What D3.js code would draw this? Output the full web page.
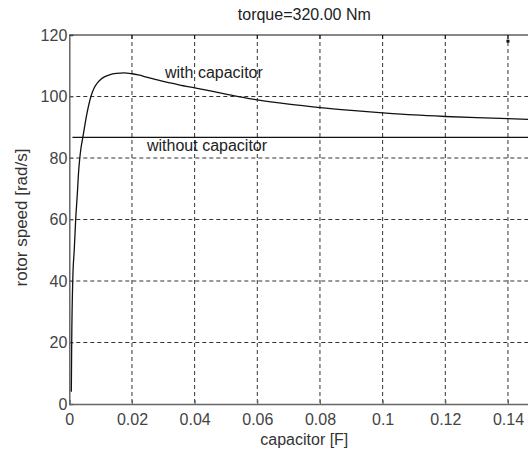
<!DOCTYPE html>
<html lang="en">
<head>
<meta charset="UTF-8">
<title>rotor speed vs capacitor</title>
<script src="https://d3js.org/d3.v7.min.js"></script>
<style>
    body { margin: 0; background: #fff; }
    svg { display: block; font-family: "Liberation Sans", Arial, sans-serif; }
    .axis text { fill: #444; font-size: 16px; }
    .axis path, .axis line { stroke: #666; }
    .grid line { stroke: #333; stroke-dasharray: 4,3; }
</style>
</head>
<body>
<svg width="528" height="451"></svg>
<script>
// data
const capacitor = [0.00064, 0.00077, 0.0011, 0.0016, 0.00204, 0.0026, 0.0029, 0.0033, 0.0037, 0.0043,
    0.0055, 0.0069, 0.0080, 0.0091, 0.0102, 0.0112, 0.013, 0.015, 0.0175, 0.020, 0.022, 0.025,
    0.030, 0.035, 0.040, 0.045, 0.050, 0.055, 0.060, 0.070, 0.080, 0.090, 0.100, 0.110, 0.120,
    0.130, 0.140, 0.150];
const speedWith = [4.0, 20.2, 40.1, 50.5, 60, 69, 74.5, 79.5, 83.0, 86.6,
    93.8, 100, 102.9, 104.6, 105.7, 106.4, 107.1, 107.5, 107.7, 107.4, 107.0, 106.2,
    104.9, 103.8, 102.8, 101.8, 100.8, 99.8, 98.9, 97.5, 96.4, 95.5, 94.7, 94.0, 93.5,
    93.1, 92.8, 92.4];
const speedWithout = 86.7;
const withoutStart = 0.001;
const xTicks = [0, 0.02, 0.04, 0.06, 0.08, 0.1, 0.12, 0.14];
const yTicks = [0, 20, 40, 60, 80, 100, 120];
const marker = [0.14, 118];

const svg = d3.select("svg");
const mLeft = 69.3, mRight = 539.3, mTop = 35, mBottom = 404;

const x = d3.scaleLinear().domain([0, 0.15]).range([mLeft, mRight]);
const y = d3.scaleLinear().domain([0, 120]).range([mBottom, mTop]);

// grid
const grid = svg.append("g").attr("class", "grid");
grid.selectAll(".vx").data(xTicks.slice(1)).enter().append("line")
    .attr("x1", d => x(d)).attr("x2", d => x(d))
    .attr("y1", mTop).attr("y2", mBottom);
grid.selectAll(".hy").data(yTicks.slice(1, -1)).enter().append("line")
    .attr("x1", mLeft).attr("x2", mRight)
    .attr("y1", d => y(d)).attr("y2", d => y(d));

// axes
svg.append("g").attr("class", "axis")
    .attr("transform", `translate(0,${mBottom})`)
    .call(d3.axisBottom(x).tickValues(xTicks).tickSize(-4).tickPadding(10)
        .tickFormat(d => d === 0 ? "0" : String(+d.toFixed(2))))
    .call(g => g.select(".domain").attr("stroke-width", 1.5));
svg.append("g").attr("class", "axis")
    .attr("transform", `translate(${mLeft},0)`)
    .call(d3.axisLeft(y).tickValues(yTicks).tickSize(-4).tickPadding(2))
    .call(g => g.select(".domain").attr("stroke-width", 1.5));

// top border with inner ticks
svg.append("line").attr("x1", mLeft).attr("x2", mRight).attr("y1", mTop).attr("y2", mTop)
    .attr("stroke", "#111").attr("stroke-width", 1.2);
svg.selectAll(".tt").data(xTicks.slice(1)).enter().append("line")
    .attr("x1", d => x(d)).attr("x2", d => x(d))
    .attr("y1", mTop).attr("y2", mTop + 4).attr("stroke", "#111");

// without capacitor line
svg.append("line")
    .attr("x1", x(withoutStart)).attr("x2", x(0.15))
    .attr("y1", y(speedWithout)).attr("y2", y(speedWithout))
    .attr("stroke", "#111").attr("stroke-width", 1.1);

// with capacitor curve
const pts = capacitor.map((c, i) => [c, speedWith[i]]);
svg.append("path").datum(pts)
    .attr("fill", "none").attr("stroke", "#111").attr("stroke-width", 1.3)
    .attr("d", d3.line().x(d => x(d[0])).y(d => y(d[1])).curve(d3.curveMonotoneX));

// stray marker
svg.append("rect").attr("x", x(marker[0]) - 1.5).attr("y", y(marker[1]) - 1.5)
    .attr("width", 3).attr("height", 3).attr("fill", "#111");

// labels
svg.append("text").attr("x", x(0.075)).attr("y", 20).attr("text-anchor", "middle")
    .attr("font-size", 16).attr("fill", "#222").text("torque=320.00 Nm");
svg.append("text").attr("x", x(0.075)).attr("y", 445).attr("text-anchor", "middle")
    .attr("font-size", 16).attr("fill", "#333").text("capacitor [F]");
svg.append("text").attr("transform", `translate(27,${(mTop + mBottom) / 2 - 2}) rotate(-90)`)
    .attr("text-anchor", "middle").attr("font-size", 17).attr("fill", "#333").text("rotor speed [rad/s]");
svg.append("text").attr("x", 165).attr("y", 78)
    .attr("font-size", 16).attr("fill", "#222").text("with capacitor");
svg.append("text").attr("x", 147).attr("y", 151)
    .attr("font-size", 16).attr("fill", "#222").text("without capacitor");
</script>
</body>
</html>
